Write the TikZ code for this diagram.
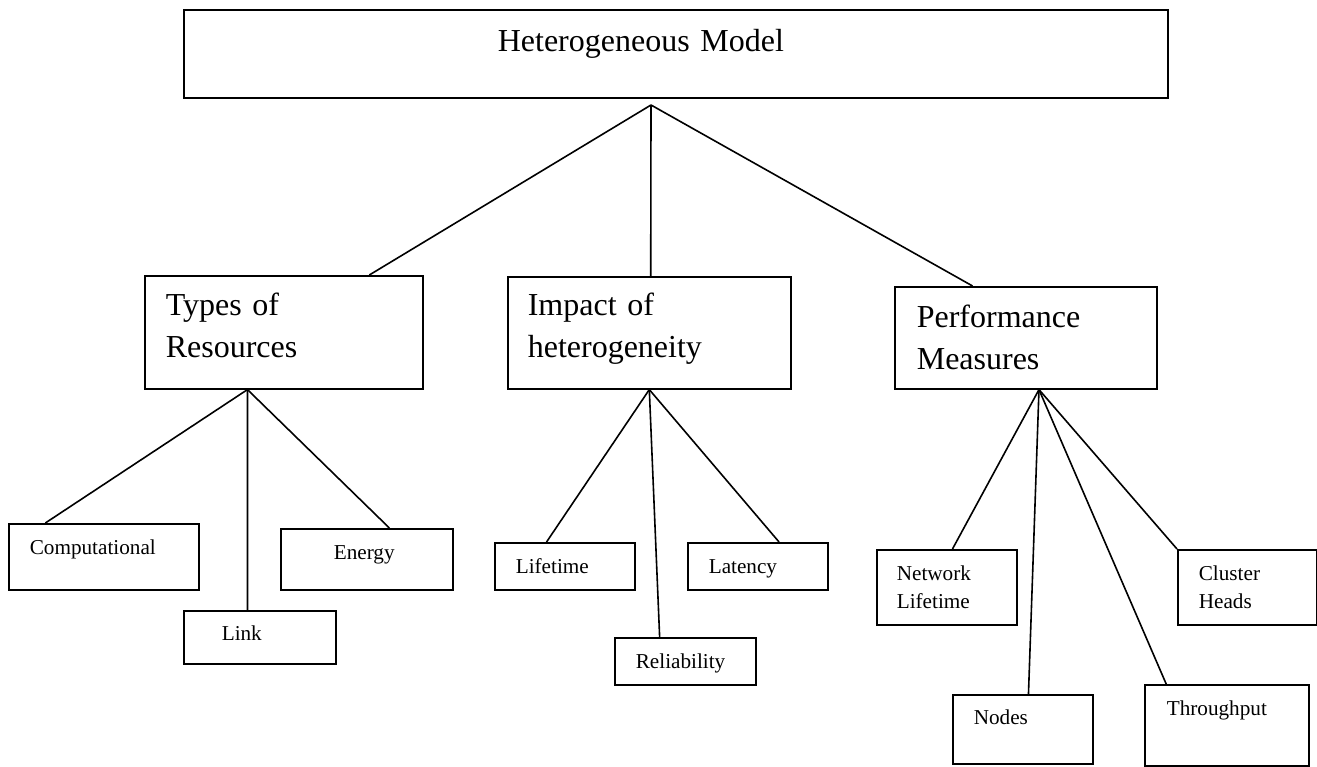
\documentclass[tikz,border=0pt]{standalone}
\usepackage{fontspec}
\setmainfont{Liberation Serif}
\usepackage{tikz}
\usetikzlibrary{calc}
\tikzset{%
  box/.style = {rectangle,draw,solid,line width=1.6pt,anchor=north west,
        inner ysep=0pt,align=left},
  big/.style = {box,font=\fontsize{32}{42}\selectfont},
  small/.style = {box,font=\fontsize{21.2}{28}\selectfont},
  branch/.style = {line width=1.6pt}
}

\begin{document}
\begin{tikzpicture}[x=1pt,y=-1pt]
    \useasboundingbox (0,0) rectangle (1317,767);

    \node[big,inner xsep=314pt,text width=356pt,text height=42pt,text depth=46pt] (model) at (183,9) {Heterogeneous Model};

    \node[big,inner xsep=21pt,text width=236pt,text height=40pt,text depth=73pt] (types) at (144,275) {Types of\\Resources};
    \node[big,inner xsep=20pt,text width=243pt,text height=39pt,text depth=73pt] (impact) at (507,276) {Impact of\\heterogeneity};
    \node[big,inner xsep=22pt,text width=218pt,text height=41pt,text depth=61pt] (perf) at (894,286) {Performance\\Measures};

    \node[small,inner xsep=21pt,text width=148pt,text height=31pt,text depth=35pt] (comp) at (8,523) {Computational};
    \node[small,inner xsep=38pt,text width=76pt,text height=30pt,text depth=23pt] (link) at (183,610) {Link};
    \node[small,inner xsep=53pt,text width=66pt,text height=31pt,text depth=30pt] (energy) at (280,528) {Energy};

    \node[small,inner xsep=21pt,text width=98pt,text height=31pt,text depth=16pt] (life) at (494,542) {Lifetime};
    \node[small,inner xsep=21pt,text width=99pt,text height=31pt,text depth=16pt] (reliab) at (614,637) {Reliability};
    \node[small,inner xsep=21pt,text width=98pt,text height=31pt,text depth=16pt] (latency) at (687,542) {Latency};

    \node[small,inner xsep=20pt,text width=100pt,text height=31pt,text depth=44pt] (netlife) at (876,549) {Network\\Lifetime};
    \node[small,inner xsep=21pt,text width=98pt,text height=30pt,text depth=39pt] (nodes) at (952,694) {Nodes};
    \node[small,inner xsep=22pt,text width=120pt,text height=31pt,text depth=50pt] (thru) at (1144,684) {Throughput};
    \node[small,inner xsep=21pt,text width=97pt,text height=31pt,text depth=44pt] (cluster) at (1177,549) {Cluster\\Heads};

    % fork points
    \coordinate (hub) at (651,105);
    \coordinate (types-foot) at ($(types.south west)!.37!(types.south east)$);
    \coordinate (impact-foot) at ($(impact.south west)!.5!(impact.south east)$);
    \coordinate (perf-foot) at ($(perf.south west)!.55!(perf.south east)$);

    \draw[branch] (hub) -- ($(types.north west)!.806!(types.north east)$);
    \draw[branch] (hub) -- ($(impact.north west)!.505!(impact.north east)$);
    \draw[branch] (hub) -- ($(perf.north west)!.298!(perf.north east)$);

    \draw[branch] (types-foot) -- ($(comp.north west)!.195!(comp.north east)$);
    \draw[branch] (types-foot) -- ($(link.north west)!.42!(link.north east)$);
    \draw[branch] (types-foot) -- ($(energy.north west)!.63!(energy.north east)$);

    \draw[branch] (impact-foot) -- ($(life.north west)!.371!(life.north east)$);
    \draw[branch] (impact-foot) -- ($(reliab.north west)!.32!(reliab.north east)$);
    \draw[branch] (impact-foot) -- ($(latency.north west)!.65!(latency.north east)$);

    \draw[branch] (perf-foot) -- ($(netlife.north west)!.54!(netlife.north east)$);
    \draw[branch] (perf-foot) -- ($(nodes.north west)!.54!(nodes.north east)$);
    \draw[branch] (perf-foot) -- ($(thru.north west)!.134!(thru.north east)$);
    \draw[branch] (perf-foot) -- (cluster.north west);
\end{tikzpicture}
\end{document}
